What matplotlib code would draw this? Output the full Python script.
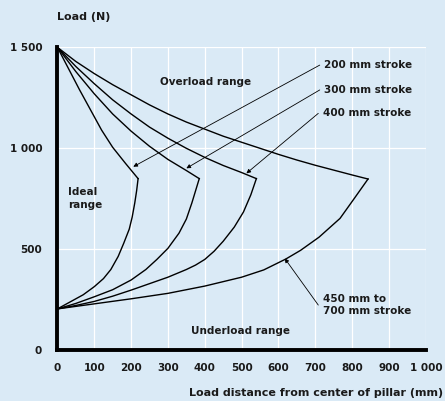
import matplotlib.pyplot as plt

# upper branches (from the 1 500 N start to the tip)
up_200_x = [0, 30, 60, 90, 120, 150, 185, 219]
up_200_y = [1500, 1395, 1290, 1190, 1090, 1005, 925, 850]
up_300_x = [0, 50, 100, 150, 200, 250, 300, 350, 385]
up_300_y = [1500, 1380, 1270, 1170, 1085, 1010, 945, 890, 850]
up_400_x = [0, 50, 100, 150, 200, 250, 300, 350, 400, 450, 500, 540]
up_400_y = [1500, 1405, 1320, 1240, 1170, 1105, 1050, 1000, 955, 915, 880, 850]
up_700_x = [0, 50, 100, 150, 200, 250, 300, 350, 400, 450, 500, 550, 600, 650, 700, 750, 800, 843]
up_700_y = [1500, 1430, 1370, 1315, 1265, 1215, 1170, 1130, 1095, 1060, 1030, 1000,
            970, 942, 916, 892, 868, 848]

# lower branches (from the 205 N start to the tip)
lo_200_x = [0, 35, 70, 100, 125, 145, 165, 180, 195, 203, 210, 215, 219]
lo_200_y = [205, 240, 275, 315, 355, 400, 465, 530, 600, 660, 730, 790, 850]
lo_300_x = [0, 50, 100, 150, 200, 240, 270, 300, 330, 350, 365, 375, 385]
lo_300_y = [205, 232, 265, 300, 348, 400, 450, 505, 580, 650, 730, 790, 850]
lo_400_x = [0, 50, 100, 150, 200, 250, 300, 350, 375, 400, 425, 450, 480, 505, 525, 540]
lo_400_y = [205, 222, 242, 268, 298, 330, 362, 400, 422, 450, 490, 540, 610, 685, 770, 850]
lo_700_x = [0, 100, 200, 300, 400, 500, 560, 620, 660, 710, 767, 805, 843]
lo_700_y = [205, 230, 255, 282, 318, 362, 398, 452, 495, 560, 653, 750, 848]

curves = [
    (up_200_x, up_200_y, lo_200_x, lo_200_y),
    (up_300_x, up_300_y, lo_300_x, lo_300_y),
    (up_400_x, up_400_y, lo_400_x, lo_400_y),
    (up_700_x, up_700_y, lo_700_x, lo_700_y),
]

# callouts: label, label position, arrow tip
callouts = [
    ("200 mm stroke", (712, 1412), (206, 909)),
    ("300 mm stroke", (712, 1289), (350, 901)),
    ("400 mm stroke", (708, 1173), (513, 876)),
    ("450 mm to\n700 mm stroke", (708, 224), (617, 455)),
]

x_ticks = [0, 100, 200, 300, 400, 500, 600, 700, 800, 900, 1000]
x_labels = ["0", "100", "200", "300", "400", "500", "600", "700", "800", "900", "1 000"]
y_ticks = [0, 500, 1000, 1500]
y_labels = ["0", "500", "1 000", "1 500"]

bg = "#DAEAF6"
font = dict(fontsize=7.5, fontweight="bold", color="#1a1a1a")

fig = plt.figure(figsize=(4.45, 4.01), dpi=100, facecolor=bg)
ax = fig.add_axes([0.129, 0.1264, 0.828, 0.7556], facecolor=bg)

for ux, uy, lx, ly in curves:
    ax.plot(ux, uy, color="black", lw=1.0, solid_joinstyle="miter")
    ax.plot(lx, ly, color="black", lw=1.0, solid_joinstyle="miter")

for text, (tx, ty), (ax_, ay) in callouts:
    ax.annotate(
        "", xy=(ax_, ay), xytext=(tx, ty),
        arrowprops=dict(arrowstyle="-|>", color="black", lw=0.6,
                        mutation_scale=6, shrinkA=0, shrinkB=0),
    )
    ax.text(tx + 12, ty, text, ha="left", va="center", linespacing=1.35, **font)

ax.text(402, 1330, "Overload range", ha="center", va="center", **font)
ax.text(29, 750, "Ideal\nrange", ha="left", va="center", linespacing=1.35, **font)
ax.text(497, 97, "Underload range", ha="center", va="center", **font)

ax.set_xlim(0, 1000)
ax.set_ylim(0, 1500)
ax.set_xticks(x_ticks, x_labels, **font)
ax.set_yticks(y_ticks, y_labels, **font)
ax.tick_params(length=0, pad=9)
ax.tick_params(axis="y", pad=11)
ax.grid(True, color="white", lw=0.9)
ax.set_axisbelow(True)

for side in ["top", "right"]:
    ax.spines[side].set_visible(False)
for side in ["left", "bottom"]:
    ax.spines[side].set_linewidth(2.8)
    ax.spines[side].set_color("black")
    ax.spines[side].set_zorder(5)

fig.text(57 / 445, 1 - 17 / 401, "Load (N)", ha="left", va="center", fontsize=8, fontweight="bold", color="#1a1a1a")
fig.text(443 / 445, 1 - 393 / 401, "Load distance from center of pillar (mm)",
         ha="right", va="center", fontsize=8, fontweight="bold", color="#1a1a1a")

fig.savefig("out.png", dpi=100, facecolor=bg)
